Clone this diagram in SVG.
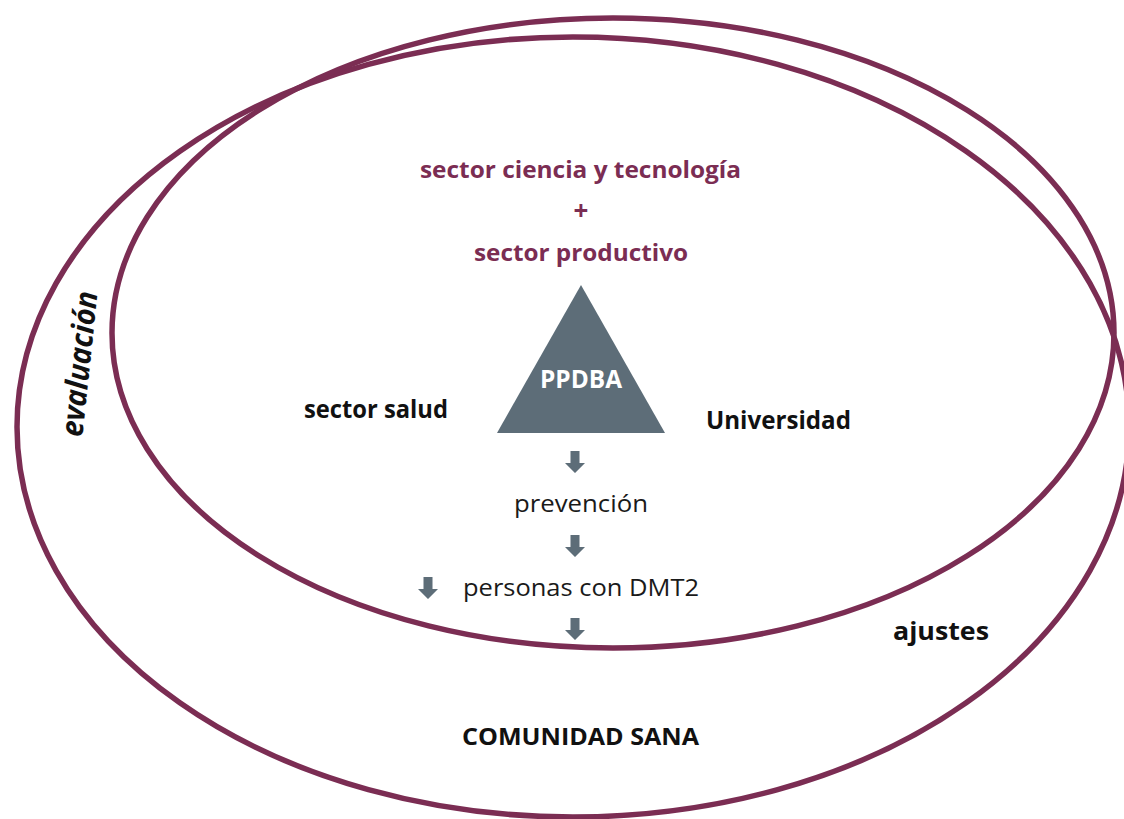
<svg xmlns="http://www.w3.org/2000/svg" xmlns:xlink="http://www.w3.org/1999/xlink" width="1124" height="819" viewBox="0 0 1124 819">
  <style>
    .ell { fill: none; stroke: #7b2d53; stroke-width: 5.5; }
    .t { font-family: "Open Sans", "Noto Sans", "Liberation Sans", sans-serif; text-anchor: middle; }
    .b { font-weight: 700; fill: #111111; font-size: 24px; }
    .p { font-weight: 700; fill: #7b2d53; font-size: 24px; }
    .r { font-weight: 400; fill: #1a1a1a; font-size: 24px; }
    .w { font-weight: 700; fill: #ffffff; font-size: 25px; }
    .arrow { fill: #5d6d78; }
  </style>
  <defs>
    <path id="arr" d="M -4.5 0 H 4.5 V 12 H 10 L 0 22 L -10 12 H -4.5 Z"/>
  </defs>
  <rect width="1124" height="819" fill="#ffffff"/>

  <g id="outer-ellipse">
    <ellipse class="ell" cx="573" cy="427" rx="556" ry="390"/>
  </g>
  <g id="inner-ellipse">
    <ellipse class="ell" cx="613" cy="333" rx="501" ry="315"/>
  </g>

  <g id="sector-ciencia">
    <text class="t p" x="580.5" y="178" textLength="321" lengthAdjust="spacingAndGlyphs">sector ciencia y tecnología</text>
  </g>
  <g id="plus">
    <text class="t p" x="581" y="220" style="font-size:26px">+</text>
  </g>
  <g id="sector-productivo">
    <text class="t p" x="581" y="261" textLength="214" lengthAdjust="spacingAndGlyphs">sector productivo</text>
  </g>
  <g id="ppdba">
    <polygon points="581,285 497,433 665,433" fill="#5d6d78"/>
    <text class="t w" x="581" y="388" textLength="82" lengthAdjust="spacingAndGlyphs">PPDBA</text>
  </g>
  <g id="sector-salud">
    <text class="t b" x="376" y="418" style="font-size:25px" textLength="144" lengthAdjust="spacingAndGlyphs">sector salud</text>
  </g>
  <g id="universidad">
    <text class="t b" x="778.5" y="429" style="font-size:25px" textLength="145" lengthAdjust="spacingAndGlyphs">Universidad</text>
  </g>
  <g id="prevencion">
    <text class="t r" x="581" y="512" textLength="134" lengthAdjust="spacingAndGlyphs">prevención</text>
  </g>
  <g id="personas">
    <text class="t r" x="581" y="596" textLength="236" lengthAdjust="spacingAndGlyphs">personas con DMT2</text>
  </g>
  <g id="ajustes">
    <text class="t b" x="941" y="640" style="font-size:25px" textLength="96" lengthAdjust="spacingAndGlyphs">ajustes</text>
  </g>
  <g id="comunidad">
    <text class="t b" x="580.5" y="745" textLength="237" lengthAdjust="spacingAndGlyphs">COMUNIDAD SANA</text>
  </g>
  <g id="evaluacion">
    <text class="t b" transform="translate(90,365) rotate(-84)" x="0" y="0" style="font-size:31px;font-style:italic" textLength="146" lengthAdjust="spacingAndGlyphs">evaluación</text>
  </g>

  <g id="connectors" class="arrow">
    <use xlink:href="#arr" href="#arr" x="575" y="451"/>
    <use xlink:href="#arr" href="#arr" x="575" y="535"/>
    <use xlink:href="#arr" href="#arr" x="428" y="577"/>
    <use xlink:href="#arr" href="#arr" x="575" y="618"/>
  </g>
</svg>
